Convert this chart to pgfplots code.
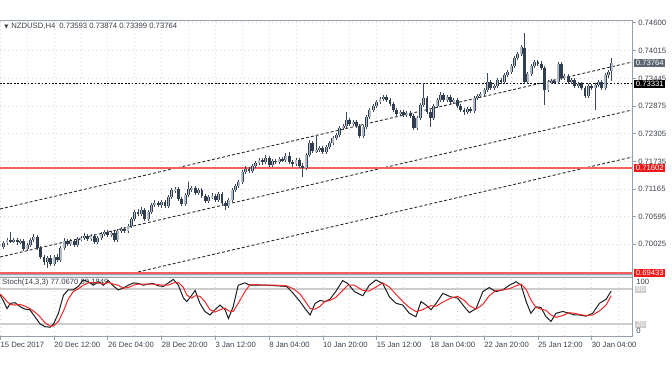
\documentclass[border=0pt]{standalone}
\usepackage{pgfplots}
\pgfplotsset{compat=1.18}
\usepackage{pgfplotstable}
\usepackage{fontspec}
\setmainfont{Liberation Sans}
\newfontfamily\dejavu{DejaVu Sans}
\definecolor{framecol}{RGB}{150,160,170}
\definecolor{gridcol}{RGB}{212,217,222}
\definecolor{txtcol}{RGB}{60,66,75}
\definecolor{bearcol}{RGB}{48,62,80}
\definecolor{bullcol}{RGB}{178,188,200}
\definecolor{wickcol}{RGB}{60,72,88}
\definecolor{lvlred}{RGB}{245,95,95}
\definecolor{boxred}{RGB}{240,25,25}
\definecolor{boxgrey}{RGB}{90,102,114}
\definecolor{stochred}{RGB}{240,40,40}
\definecolor{stochblk}{RGB}{30,30,30}
\definecolor{lvlgrey}{RGB}{205,205,205}

\pgfplotstableread{
i o h l c
1 0.69969 0.70093 0.69928 0.70052
2 0.70052 0.70155 0.70011 0.70114
3 0.70114 0.70279 0.70052 0.70093
4 0.70093 0.70155 0.70052 0.70114
5 0.70114 0.70155 0.70011 0.70072
6 0.70072 0.70134 0.70031 0.70093
7 0.70093 0.70134 0.69887 0.69928
8 0.69928 0.70052 0.69887 0.70011
9 0.70011 0.70155 0.69969 0.70114
10 0.70114 0.70237 0.70072 0.70176
11 0.70176 0.70217 0.69908 0.69949
12 0.69949 0.69990 0.69722 0.69763
13 0.69763 0.69804 0.69598 0.69660
14 0.69660 0.69784 0.69536 0.69743
15 0.69743 0.69804 0.69578 0.69619
16 0.69619 0.69804 0.69578 0.69763
17 0.69763 0.69825 0.69660 0.69701
18 0.69701 0.69990 0.69660 0.69949
19 0.69949 0.70155 0.69908 0.70093
20 0.70093 0.70134 0.69990 0.70031
21 0.70031 0.70134 0.69990 0.70093
22 0.70093 0.70134 0.69969 0.70011
23 0.70011 0.70176 0.69969 0.70134
24 0.70134 0.70196 0.70093 0.70155
25 0.70155 0.70258 0.70114 0.70196
26 0.70196 0.70237 0.70093 0.70134
27 0.70134 0.70237 0.70093 0.70196
28 0.70196 0.70237 0.70031 0.70072
29 0.70072 0.70196 0.70031 0.70155
30 0.70155 0.70279 0.70114 0.70237
31 0.70237 0.70320 0.70196 0.70279
32 0.70279 0.70320 0.70176 0.70217
33 0.70217 0.70299 0.70176 0.70258
34 0.70258 0.70299 0.70072 0.70114
35 0.70114 0.70341 0.70072 0.70299
36 0.70299 0.70382 0.70258 0.70341
37 0.70341 0.70382 0.70258 0.70299
38 0.70299 0.70443 0.70258 0.70402
39 0.70402 0.70588 0.70361 0.70547
40 0.70547 0.70732 0.70505 0.70691
41 0.70691 0.70753 0.70608 0.70650
42 0.70650 0.70794 0.70608 0.70732
43 0.70732 0.70773 0.70505 0.70547
44 0.70547 0.70732 0.70505 0.70691
45 0.70691 0.70876 0.70650 0.70835
46 0.70835 0.70938 0.70794 0.70876
47 0.70876 0.70918 0.70794 0.70835
48 0.70835 0.70938 0.70773 0.70897
49 0.70897 0.70938 0.70773 0.70815
50 0.70815 0.71041 0.70773 0.71000
51 0.71000 0.71186 0.70959 0.71144
52 0.71144 0.71206 0.71082 0.71165
53 0.71165 0.71206 0.70918 0.70959
54 0.70959 0.71000 0.70815 0.70856
55 0.70856 0.71082 0.70815 0.71041
56 0.71041 0.71309 0.71000 0.71165
57 0.71165 0.71227 0.71103 0.71186
58 0.71186 0.71227 0.71041 0.71082
59 0.71082 0.71186 0.71041 0.71144
60 0.71144 0.71186 0.70979 0.71021
61 0.71021 0.71062 0.70876 0.70918
62 0.70918 0.71041 0.70876 0.71000
63 0.71000 0.71082 0.70959 0.71021
64 0.71021 0.71062 0.70897 0.70938
65 0.70938 0.71103 0.70897 0.71062
66 0.71062 0.71103 0.70835 0.70876
67 0.70876 0.70918 0.70732 0.70815
68 0.70815 0.70979 0.70773 0.70938
69 0.70938 0.71186 0.70897 0.71144
70 0.71144 0.71268 0.71103 0.71227
71 0.71227 0.71351 0.71186 0.71309
72 0.71309 0.71557 0.71268 0.71515
73 0.71515 0.71639 0.71474 0.71577
74 0.71577 0.71618 0.71495 0.71536
75 0.71536 0.71680 0.71495 0.71639
76 0.71639 0.71742 0.71598 0.71701
77 0.71701 0.71804 0.71660 0.71763
78 0.71763 0.71804 0.71660 0.71722
79 0.71722 0.71866 0.71680 0.71804
80 0.71804 0.71845 0.71618 0.71660
81 0.71660 0.71783 0.71618 0.71742
82 0.71742 0.71783 0.71680 0.71722
83 0.71722 0.71824 0.71680 0.71783
84 0.71783 0.71824 0.71722 0.71763
85 0.71763 0.71907 0.71722 0.71845
86 0.71845 0.71928 0.71680 0.71722
87 0.71722 0.71763 0.71618 0.71680
88 0.71680 0.71804 0.71639 0.71763
89 0.71763 0.71804 0.71598 0.71639
90 0.71639 0.71701 0.71412 0.71598
91 0.71598 0.71907 0.71557 0.71866
92 0.71866 0.72175 0.71824 0.72113
93 0.72113 0.72154 0.71907 0.71948
94 0.71948 0.72278 0.71907 0.71969
95 0.71969 0.72051 0.71928 0.72010
96 0.72010 0.72051 0.71886 0.71928
97 0.71928 0.72072 0.71886 0.72031
98 0.72031 0.72154 0.71990 0.72113
99 0.72113 0.72258 0.72072 0.72216
100 0.72216 0.72319 0.72175 0.72278
101 0.72278 0.72464 0.72237 0.72422
102 0.72422 0.72505 0.72381 0.72464
103 0.72464 0.72752 0.72422 0.72587
104 0.72587 0.72629 0.72464 0.72505
105 0.72505 0.72587 0.72464 0.72546
106 0.72546 0.72587 0.72422 0.72464
107 0.72464 0.72505 0.72216 0.72258
108 0.72258 0.72484 0.72216 0.72443
109 0.72443 0.72690 0.72402 0.72649
110 0.72649 0.72835 0.72608 0.72794
111 0.72794 0.72917 0.72752 0.72876
112 0.72876 0.73000 0.72835 0.72958
113 0.72958 0.73062 0.72917 0.73020
114 0.73020 0.73103 0.72979 0.73062
115 0.73062 0.73103 0.72958 0.73000
116 0.73000 0.73041 0.72876 0.72917
117 0.72917 0.72958 0.72752 0.72794
118 0.72794 0.72835 0.72670 0.72711
119 0.72711 0.72794 0.72670 0.72752
120 0.72752 0.72794 0.72649 0.72690
121 0.72690 0.72773 0.72649 0.72732
122 0.72732 0.72773 0.72629 0.72670
123 0.72670 0.72711 0.72381 0.72422
124 0.72422 0.72670 0.72381 0.72629
125 0.72629 0.72938 0.72587 0.72896
126 0.72896 0.73350 0.72855 0.73041
127 0.73041 0.73082 0.72711 0.72752
128 0.72752 0.72794 0.72443 0.72629
129 0.72629 0.72917 0.72587 0.72876
130 0.72876 0.73041 0.72835 0.73000
131 0.73000 0.73165 0.72958 0.73103
132 0.73103 0.73144 0.72958 0.73000
133 0.73000 0.73103 0.72958 0.73062
134 0.73062 0.73103 0.72917 0.72958
135 0.72958 0.73041 0.72917 0.73000
136 0.73000 0.73041 0.72835 0.72876
137 0.72876 0.72917 0.72752 0.72794
138 0.72794 0.72835 0.72690 0.72752
139 0.72752 0.72855 0.72711 0.72814
140 0.72814 0.72855 0.72732 0.72773
141 0.72773 0.73082 0.72732 0.73041
142 0.73041 0.73123 0.73000 0.73082
143 0.73082 0.73165 0.73041 0.73123
144 0.73123 0.73247 0.73082 0.73206
145 0.73206 0.73556 0.73165 0.73371
146 0.73371 0.73412 0.73206 0.73247
147 0.73247 0.73329 0.73206 0.73288
148 0.73288 0.73453 0.73247 0.73412
149 0.73412 0.73453 0.73329 0.73371
150 0.73371 0.73556 0.73329 0.73515
151 0.73515 0.73618 0.73474 0.73577
152 0.73577 0.73742 0.73536 0.73700
153 0.73700 0.73907 0.73659 0.73865
154 0.73865 0.73989 0.73824 0.73948
155 0.73948 0.74133 0.73907 0.74092
156 0.74072 0.74381 0.73329 0.73371
157 0.73371 0.73577 0.73329 0.73536
158 0.73536 0.73742 0.73494 0.73700
159 0.73700 0.73824 0.73659 0.73783
160 0.73783 0.73824 0.73700 0.73742
161 0.73742 0.73804 0.73618 0.73659
162 0.73659 0.73700 0.72896 0.73206
163 0.73206 0.73412 0.73165 0.73371
164 0.73371 0.73433 0.73329 0.73391
165 0.73391 0.73433 0.73329 0.73371
166 0.73371 0.73783 0.73329 0.73742
167 0.73742 0.73783 0.73412 0.73453
168 0.73453 0.73536 0.73412 0.73494
169 0.73494 0.73536 0.73329 0.73371
170 0.73371 0.73453 0.73329 0.73412
171 0.73412 0.73453 0.73247 0.73288
172 0.73288 0.73371 0.73247 0.73329
173 0.73329 0.73371 0.73206 0.73247
174 0.73247 0.73288 0.73041 0.73082
175 0.73082 0.73329 0.73041 0.73288
176 0.73288 0.73329 0.73206 0.73247
177 0.73247 0.73350 0.72794 0.73309
178 0.73309 0.73412 0.73267 0.73371
179 0.73371 0.73412 0.73206 0.73247
180 0.73247 0.73556 0.73206 0.73515
181 0.73515 0.73618 0.73453 0.73577
182 0.73593 0.73874 0.73399 0.73764
}\candles

\pgfplotstableread{
i k d
0 70 72
1 59 66
2 47 59
3 56 54
4.4 57 53
6 50 54
7.4 46 51
8.8 45 47
10.3 33 41
11.8 21 33
13.3 16 23
14.8 15 17
15.8 20 17
17.3 39 25
18.8 70 43
20.2 79 63
21.7 79 76
23.2 85 81
24.7 96 87
26.2 93 91
27.7 87 92
29.2 93 91
30.7 87 89
32.1 95 92
33.6 86 89
35.1 79 87
36.6 82 82
38.1 87 83
39.6 91 87
41.1 90 89
42.6 87 89
44 89 89
45.5 90 89
47 86 88
48.5 85 87
50 91 87
51.5 97 91
53 87 92
54.5 65 83
55.5 59 70
57 70 65
58 78 69
59.4 56 68
60.9 42 59
62.4 36 45
63.9 45 41
65.4 53 45
66.9 45 48
67.9 30 43
69.3 50 42
70.8 87 56
72.8 91 76
74.3 87 88
76.3 87 88
79.3 87 87
82.3 86 87
85.2 85 86
87.2 73 81
89.2 59 72
90.7 47 60
92.2 36 47
93.7 56 46
95.2 61 51
96.6 59 59
98.1 63 61
99.8 76 66
101.9 95 78
103.4 90 87
105.4 76 87
107.9 69 78
109.8 87 77
111.8 96 84
113.8 90 91
115.8 67 84
117.8 56 71
119.8 53 59
121.7 39 49
123.7 33 42
125.2 59 44
126.7 53 48
128.2 45 52
129.7 56 51
131.7 73 58
134.1 67 65
136.1 65 68
138.1 50 61
139.6 40 52
141.6 47 46
143.6 76 54
145.5 83 69
147.5 76 78
149.5 79 79
151.5 87 81
153.5 93 86
155 87 89
156.5 59 80
157.9 39 62
159.4 50 49
160.9 49 46
162.4 33 44
163.9 25 36
165.4 39 32
167.4 42 35
169.3 39 40
170.8 36 39
172.3 36 37
174.3 34 35
176.3 39 36
178.3 56 43
180.3 63 53
181.8 77.067 69.185
}\stoch

\tikzset{
  mtfont/.style={font=\fontsize{5.8}{6.5}\selectfont},
  mtgrid/.style={draw=gridcol, line width=0.5bp, dash pattern=on 1bp off 2bp},
}

\begin{document}
\begin{tikzpicture}
\useasboundingbox (0bp,0bp) rectangle (504bp,-279bp);
\fill[white] (0bp,0bp) rectangle (504bp,-279bp);

% ---------------- main price panel ----------------
\begin{axis}[
  at={(0bp,-15bp)}, anchor=north west,
  scale only axis, width=474bp, height=190.5bp,
  xmin=-0.09, xmax=188, ymin=0.694128, ymax=0.746487,
  axis line style={draw=none},
  xtick={0,16,...,176}, xticklabels={},
  minor xtick={8,24,...,184},
  major tick length=3bp, minor tick length=0pt,
  tick align=outside,
  x tick style={draw=none},
  xmajorgrids, xminorgrids, ymajorgrids,
  grid style={mtgrid}, minor grid style={mtgrid},
  ytick={0.74600,0.74015,0.73445,0.72875,0.72305,0.71735,0.71165,0.70595,0.70025},
  yticklabels={0.74600,0.74015,0.73445,0.72875,0.72305,0.71735,0.71165,0.70595,0.70025},
  ytick pos=right, yticklabel pos=right,
  y tick style={draw=framecol, line width=0.5bp},
  yticklabel style={mtfont, text=txtcol, anchor=west, inner sep=0pt, xshift=1.5bp},
  /pgf/number format/assume math mode=true,
  clip mode=individual,
]
% channel lines
\addplot[draw=black!85, line width=0.65bp, dash pattern=on 2.2bp off 1.6bp] coordinates {(-0.09,0.70753) (188,0.73783)};
\addplot[draw=black!85, line width=0.65bp, dash pattern=on 2.2bp off 1.6bp] coordinates {(-0.09,0.69763) (188,0.72794)};
\addplot[draw=black!85, line width=0.65bp, dash pattern=on 2.2bp off 1.6bp] coordinates {(-0.09,0.68794) (188,0.71824)};
% horizontal levels
\addplot[draw=black, line width=0.8bp, dash pattern=on 1.3bp off 1.3bp] coordinates {(-0.09,0.73331) (188,0.73331)};
\addplot[draw=lvlred, line width=1.4bp] coordinates {(-0.09,0.71602) (188,0.71602)};
\addplot[draw=lvlred, line width=1.4bp] coordinates {(-0.09,0.69433) (188,0.69433)};
% wicks
\addplot[draw=none, mark=none,
  error bars/.cd, y dir=both, y explicit, error mark=none,
  error bar style={line width=0.65bp, draw=wickcol, solid}]
  table[x=i, y expr={(\thisrow{h}+\thisrow{l})/2}, y error expr={(\thisrow{h}-\thisrow{l})/2}] {\candles};
% bear bodies
\addplot[draw=none, mark=none,
  restrict expr to domain={\thisrow{c}-\thisrow{o}}{-1:0},
  error bars/.cd, y dir=both, y explicit, error mark=none,
  error bar style={line width=2.1bp, line cap=butt, draw=bearcol, solid}]
  table[x=i, y expr={(\thisrow{o}+\thisrow{c})/2}, y error expr={abs(\thisrow{c}-\thisrow{o})/2}] {\candles};
% bull bodies: outline then fill
\addplot[draw=none, mark=none,
  restrict expr to domain={\thisrow{c}-\thisrow{o}}{0:1},
  error bars/.cd, y dir=both, y explicit, error mark=none,
  error bar style={line width=2.2bp, line cap=butt, draw=bearcol, solid}]
  table[x=i, y expr={(\thisrow{o}+\thisrow{c})/2}, y error expr={abs(\thisrow{c}-\thisrow{o})/2+0.00004}] {\candles};
\addplot[draw=none, mark=none,
  restrict expr to domain={\thisrow{c}-\thisrow{o}}{0:1},
  error bars/.cd, y dir=both, y explicit, error mark=none,
  error bar style={line width=1.1bp, line cap=butt, draw=bullcol, solid}]
  table[x=i, y expr={(\thisrow{o}+\thisrow{c})/2}, y error expr={max(abs(\thisrow{c}-\thisrow{o})/2-0.00004,0)}] {\candles};
% price boxes
\node[anchor=west, fill=boxgrey, text=white, mtfont, inner xsep=1.2bp, inner ysep=0.8bp, xshift=1.5bp] at (axis cs:188,0.73764) {0.73764};
\node[anchor=west, fill=black, text=white, mtfont, inner xsep=1.2bp, inner ysep=0.8bp, xshift=1.5bp] at (axis cs:188,0.73331) {0.73331};
\node[anchor=west, fill=boxred, text=white, mtfont, inner xsep=1.2bp, inner ysep=0.8bp, xshift=1.5bp] at (axis cs:188,0.71602) {0.71602};
\node[anchor=west, fill=boxred, text=white, mtfont, inner xsep=1.2bp, inner ysep=0.8bp, xshift=1.5bp] at (axis cs:188,0.69433) {0.69433};
\end{axis}

% ---------------- stochastic panel ----------------
\begin{axis}[
  at={(0bp,-207.75bp)}, anchor=north west,
  scale only axis, width=474bp, height=44.25bp,
  xmin=-0.09, xmax=188, ymin=0, ymax=101.1,
  axis line style={draw=none},
  xtick={0,16,...,176},
  xticklabels={15 Dec 2017,20 Dec 12:00,26 Dec 04:00,28 Dec 20:00,3 Jan 12:00,8 Jan 04:00,10 Jan 20:00,15 Jan 12:00,18 Jan 04:00,22 Jan 20:00,25 Jan 12:00,30 Jan 04:00},
  minor xtick={8,24,...,184},
  xtick pos=bottom, tick align=outside,
  major tick length=3bp, minor tick length=0pt,
  x tick style={draw=framecol, line width=0.5bp},
  xmajorgrids, xminorgrids,
  grid style={mtgrid}, minor grid style={mtgrid},
  ytick=\empty,
  xticklabel style={mtfont, text=txtcol, anchor=north west, inner sep=0pt, yshift=-1.5bp},
  /pgf/number format/assume math mode=true,
  clip mode=individual,
]
\addplot[draw=lvlgrey, line width=1.3bp] coordinates {(-0.09,80) (188,80)};
\addplot[draw=lvlgrey, line width=1.3bp] coordinates {(-0.09,20) (188,20)};
\node[anchor=west, mtfont, text=txtcol, inner sep=0pt] at (axis cs:0.5,91) {Stoch(14,3,3) 77.0670 69.1849};
\addplot[draw=stochblk, line width=0.75bp] table[x=i, y=k] {\stoch};
\addplot[draw=stochred, line width=0.75bp] table[x=i, y=d] {\stoch};
\node[anchor=west, mtfont, text=txtcol, inner sep=0pt, xshift=3bp] at (axis cs:188,93) {100};
\node[anchor=west, mtfont, text=white, fill=lvlgrey, inner xsep=0.8bp, inner ysep=0.6bp, xshift=2.2bp] at (axis cs:188,80) {80};
\node[anchor=west, mtfont, text=white, fill=lvlgrey, inner xsep=0.8bp, inner ysep=0.6bp, xshift=2.2bp] at (axis cs:188,20) {20};
\node[anchor=west, mtfont, text=txtcol, inner sep=0pt, xshift=3bp] at (axis cs:188,8.6) {0};
\end{axis}

% frame
\fill[gridcol!60] (0bp,-205.5bp) rectangle (474bp,-207.75bp);
\draw[framecol, line width=0.6bp] (0bp,-15bp) -- (474bp,-15bp) -- (474bp,-252bp) -- (0bp,-252bp);
\draw[framecol, line width=0.6bp] (0bp,-205.5bp) -- (474bp,-205.5bp);
\draw[framecol, line width=0.6bp] (0bp,-207.75bp) -- (474bp,-207.75bp);
% title
\node[anchor=west, mtfont, text=txtcol, inner sep=0pt] at (3bp,-19.5bp) {{\dejavu\fontsize{4}{4}\selectfont ▼}\hspace{2.2bp}NZDUSD,H4\hspace{3bp}0.73593 0.73874 0.73399 0.73764};
\end{tikzpicture}
\end{document}
